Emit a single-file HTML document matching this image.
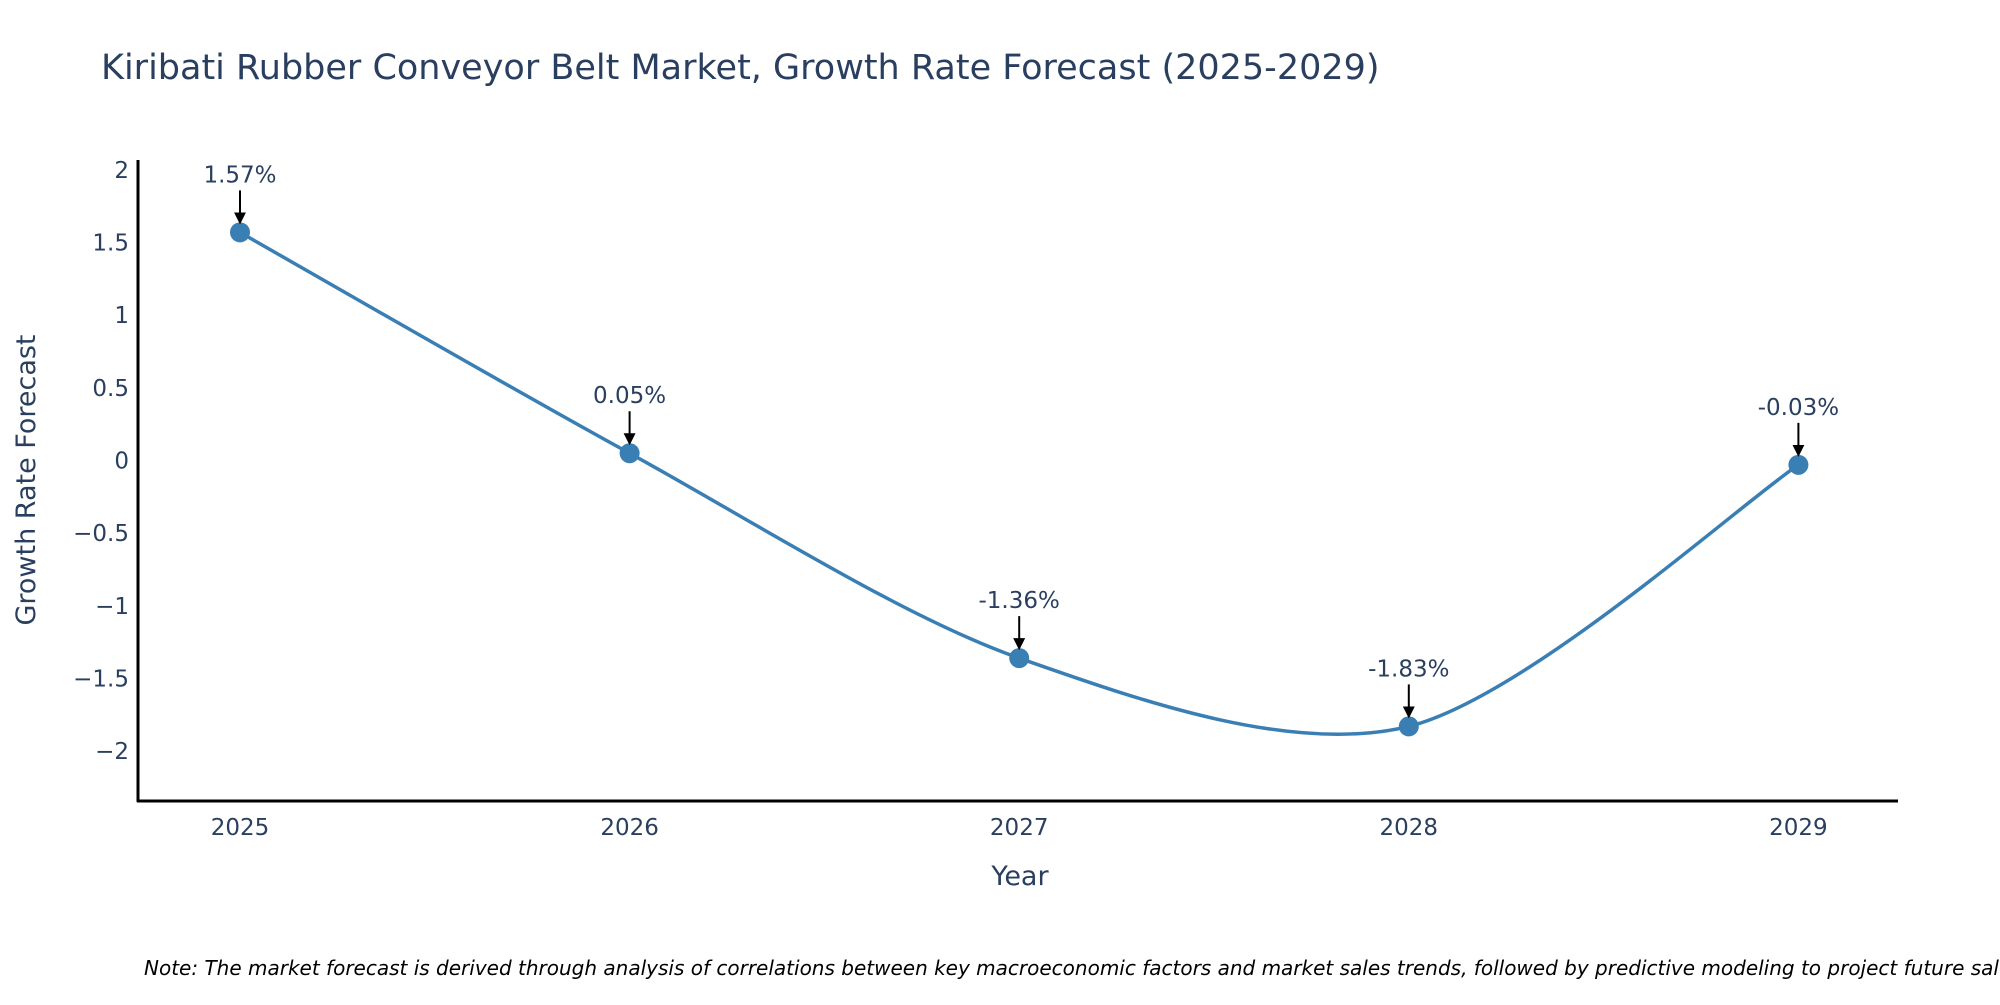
<!DOCTYPE html>
<html><head><meta charset="utf-8"><style>
body{margin:0;background:#fff;}
svg text{font-family:"DejaVu Sans","Liberation Sans",sans-serif;fill:#2a3f5f;}
</style></head><body>
<svg width="2000" height="1000" xmlns="http://www.w3.org/2000/svg">
<defs><marker id="ah" markerWidth="6" markerHeight="6" refX="5" refY="3" orient="auto" markerUnits="strokeWidth"><path d="M0,0 L6,3 L0,6 z" fill="#000"/></marker></defs>
<text x="101" y="79" font-size="35">Kiribati Rubber Conveyor Belt Market, Growth Rate Forecast (2025-2029)</text>
<g id="yticks"></g><g id="xticks"></g>
<line x1="138" y1="160" x2="138" y2="802" stroke="#000" stroke-width="3"/>
<line x1="137" y1="801" x2="1898" y2="801" stroke="#000" stroke-width="3"/>
<path id="line" fill="none" stroke="#3a7fb3" stroke-width="3.5"/>
<g id="marks"></g>
<text x="1020" y="885" font-size="27" text-anchor="middle">Year</text>
<text transform="translate(35,480) rotate(-90)" font-size="27" text-anchor="middle">Growth Rate Forecast</text>
<text x="144" y="975" font-size="20" font-style="italic" style="fill:#000">Note: The market forecast is derived through analysis of correlations between key macroeconomic factors and market sales trends, followed by predictive modeling to project future sales.</text>
</svg>
<script>
const years=[2025,2026,2027,2028,2029];
const values=[1.57,0.05,-1.36,-1.83,-0.03];
const labels=["1.57%","0.05%","-1.36%","-1.83%","-0.03%"];
const yTicks=[2,1.5,1,0.5,0,-0.5,-1,-1.5,-2];
const NS="http://www.w3.org/2000/svg";
const X=v=>240+(v-2025)*389.6;
const Y=v=>460.5-v*145.3;
function mk(t,a,p){const e=document.createElementNS(NS,t);for(const k in a)e.setAttribute(k,a[k]);p.appendChild(e);return e;}
const yt=document.getElementById('yticks');
yTicks.forEach(t=>{const e=mk('text',{x:129,y:Y(t)+8,'font-size':23,'text-anchor':'end'},yt);


e.textContent=String(t).replace('-','\u2212');});
const xt=document.getElementById('xticks');
years.forEach(y=>{const e=mk('text',{x:X(y),y:835,'font-size':23,'text-anchor':'middle'},xt);


e.textContent=y;});
const P=years.map((y,i)=>[X(y),Y(values[i])]);
let d=`M${P[0][0]},${P[0][1]}`;const s=0.15;
for(let i=0;i<P.length-1;i++){const p0=P[Math.max(0,i-1)],p1=P[i],p2=P[i+1],p3=P[Math.min(P.length-1,i+2)];
d+=` C${p1[0]+(p2[0]-p0[0])*s},${p1[1]+(p2[1]-p0[1])*s} ${p2[0]-(p3[0]-p1[0])*s},${p2[1]-(p3[1]-p1[1])*s} ${p2[0]},${p2[1]}`;}
document.getElementById('line').setAttribute('d',d);
const g=document.getElementById('marks');
P.forEach((p,i)=>{const c=mk('circle',{cx:p[0],cy:p[1],r:10,fill:'#3a7fb3'},g);


const a=mk('line',{x1:p[0],y1:p[1]-42,x2:p[0],y2:p[1]-10,stroke:'#000','stroke-width':2,'marker-end':'url(#ah)'},g);


const t=mk('text',{x:p[0],y:p[1]-50,'font-size':23,'text-anchor':'middle'},g);


t.textContent=labels[i];});
</script>
</body></html>
